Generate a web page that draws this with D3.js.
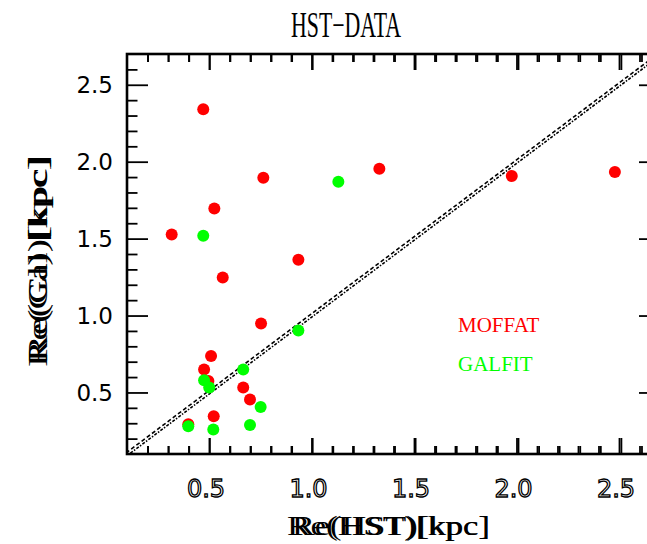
<!DOCTYPE html>
<html>
<head>
<meta charset="utf-8">
<script src="https://cdn.jsdelivr.net/npm/d3@7"></script>
<style>
  html, body { margin: 0; padding: 0; background: #fff; }
  svg { display: block; }
</style>
</head>
<body>
<script>
// Effective radius comparison: MOFFAT and GALFIT fits vs HST
const moffatX = [0.472, 0.318, 0.526, 0.765, 1.331, 1.977, 2.48, 0.567, 0.936, 0.754, 0.51, 0.476, 0.497, 0.667, 0.70, 0.523, 0.399];
const moffatY = [2.341, 1.527, 1.695, 1.896, 1.954, 1.907, 1.933, 1.248, 1.363, 0.948, 0.737, 0.649, 0.575, 0.532, 0.454, 0.346, 0.294];
const galfitX = [0.472, 1.131, 0.936, 0.667, 0.476, 0.501, 0.752, 0.399, 0.521, 0.70];
const galfitY = [1.518, 1.870, 0.903, 0.649, 0.579, 0.532, 0.406, 0.281, 0.26, 0.288];
const majorTicks = [0.5, 1.0, 1.5, 2.0, 2.5];
const tickLabels = ["0.5", "1.0", "1.5", "2.0", "2.5"];
const minorTicks = [0.2, 0.3, 0.4, 0.6, 0.7, 0.8, 0.9, 1.1, 1.2, 1.3, 1.4, 1.6, 1.7, 1.8, 1.9, 2.1, 2.2, 2.3, 2.4, 2.6];
const axisRange = [0.1, 2.7];
const seriesNames = ["MOFFAT", "GALFIT"];
const seriesColors = ["#ff0000", "#00ff00"];

const W = 647, H = 544;
const L = 127, R = 660, T = 54, B = 454;

const svg = d3.select("body").append("svg").attr("width", W).attr("height", H);

const x = d3.scaleLinear().domain(axisRange).range([L, R]);
const x2 = d3.scaleLinear().domain([0.1, 2.69]).range([L, R]); // second overplot pass
const y = d3.scaleLinear().domain(axisRange).range([B, T]);

svg.append("defs").append("clipPath").attr("id", "plotclip")
  .append("rect").attr("x", L).attr("y", T).attr("width", R - L).attr("height", B - T);

// one-to-one line, drawn as a doubled dashed stroke
const diag = d3.line().x(d => x(d)).y(d => y(d));
const g = svg.append("g").attr("clip-path", "url(#plotclip)");
g.append("path").attr("d", diag(axisRange))
  .attr("fill", "none").attr("stroke", "#000").attr("stroke-width", 1.6)
  .attr("stroke-dasharray", "4,2.5").attr("transform", "translate(-1,-1)");
g.append("path").attr("d", diag(axisRange))
  .attr("fill", "none").attr("stroke", "#000").attr("stroke-width", 1.6)
  .attr("stroke-dasharray", "1.5,1.5,3,1.5").attr("transform", "translate(1,1)");

// data points
const r = 6;
g.selectAll("circle.moffat").data(moffatX.map((v, i) => [v, moffatY[i]])).join("circle")
  .attr("class", "moffat").attr("cx", d => x(d[0])).attr("cy", d => y(d[1])).attr("r", r)
  .attr("fill", seriesColors[0]);
g.selectAll("circle.galfit").data(galfitX.map((v, i) => [v, galfitY[i]])).join("circle")
  .attr("class", "galfit").attr("cx", d => x(d[0])).attr("cy", d => y(d[1])).attr("r", r)
  .attr("fill", seriesColors[1]);

// axes with inward ticks on all four sides
const xMaj = 16, xMin = 8, yMaj = 21, yMin = 10.5;
function drawAxis(scale, side, len, minorLen) {
  const horiz = side === "bottom" || side === "top";
  const gen = side === "bottom" ? d3.axisTop : side === "top" ? d3.axisBottom
            : side === "left" ? d3.axisRight : d3.axisLeft;
  const pos = side === "bottom" ? B : side === "top" ? T : side === "left" ? L : R;
  const tr = horiz ? `translate(0,${pos})` : `translate(${pos},0)`;
  const gA = svg.append("g").call(gen(scale).tickValues(majorTicks).tickSize(len).tickFormat(""))
    .attr("transform", tr);
  const gm = svg.append("g").call(gen(scale).tickValues(minorTicks).tickSize(minorLen).tickFormat(""))
    .attr("transform", tr);
  [gA, gm].forEach(s => { s.select(".domain").remove(); s.selectAll("line").attr("stroke-width", 1.8); });
}
drawAxis(x, "bottom", xMaj, xMin);
drawAxis(x, "top", xMaj, xMin);
drawAxis(x2, "bottom", xMaj, xMin);
drawAxis(x2, "top", xMaj, xMin);
drawAxis(y, "left", yMaj, yMin);
drawAxis(y, "right", yMaj, yMin);

svg.append("rect").attr("x", L).attr("y", T).attr("width", R - L).attr("height", B - T)
  .attr("fill", "none").attr("stroke", "#000").attr("stroke-width", 2.6);

// y tick labels
svg.append("g").selectAll("text").data(majorTicks).join("text")
  .attr("x", 113).attr("y", d => y(d)).attr("dy", "0.36em")
  .attr("text-anchor", "end")
  .attr("font-family", "DejaVu Sans").attr("font-size", 23)
  .text((d, i) => tickLabels[i]);

// x tick labels, drawn hollow
svg.append("g").selectAll("text").data(majorTicks).join("text")
  .attr("x", d => x(d) - 3).attr("y", 497)
  .attr("text-anchor", "middle")
  .attr("font-family", "DejaVu Sans").attr("font-size", 24)
  .attr("fill", "#fff").attr("stroke", "#000").attr("stroke-width", 1.3)
  .text((d, i) => tickLabels[i]);

// title
svg.append("text").attr("x", 346).attr("y", 37).attr("text-anchor", "middle")
  .attr("font-family", "Liberation Serif").attr("font-size", 35)
  .attr("textLength", 110).attr("lengthAdjust", "spacingAndGlyphs")
  .text("HST\u2212DATA");

// x axis title (two overplotted passes)
[[287, 203], [292, 198]].forEach(([x0, len]) => {
  svg.append("text").attr("x", x0).attr("y", 535)
    .attr("font-family", "Liberation Serif").attr("font-size", 27)
    .attr("textLength", len).attr("lengthAdjust", "spacingAndGlyphs")
    .text("Re(HST)[kpc]");
});

// y axis title (two overplotted passes)
[["Re(Gal)[kpc]", 367, 212], ["Re(Cl) [kpc]", 362, 205]].forEach(([s, y0, len]) => {
  svg.append("text").attr("transform", `translate(47,${y0}) rotate(-90)`)
    .attr("font-family", "Liberation Serif").attr("font-size", 27)
    .attr("textLength", len).attr("lengthAdjust", "spacingAndGlyphs")
    .text(s);
});

// legend
seriesNames.forEach((name, i) => {
  svg.append("text").attr("x", 458).attr("y", 332 + i * 39)
    .attr("font-family", "Liberation Serif").attr("font-size", 21)
    .attr("fill", seriesColors[i]).text(name);
});
</script>
</body>
</html>
